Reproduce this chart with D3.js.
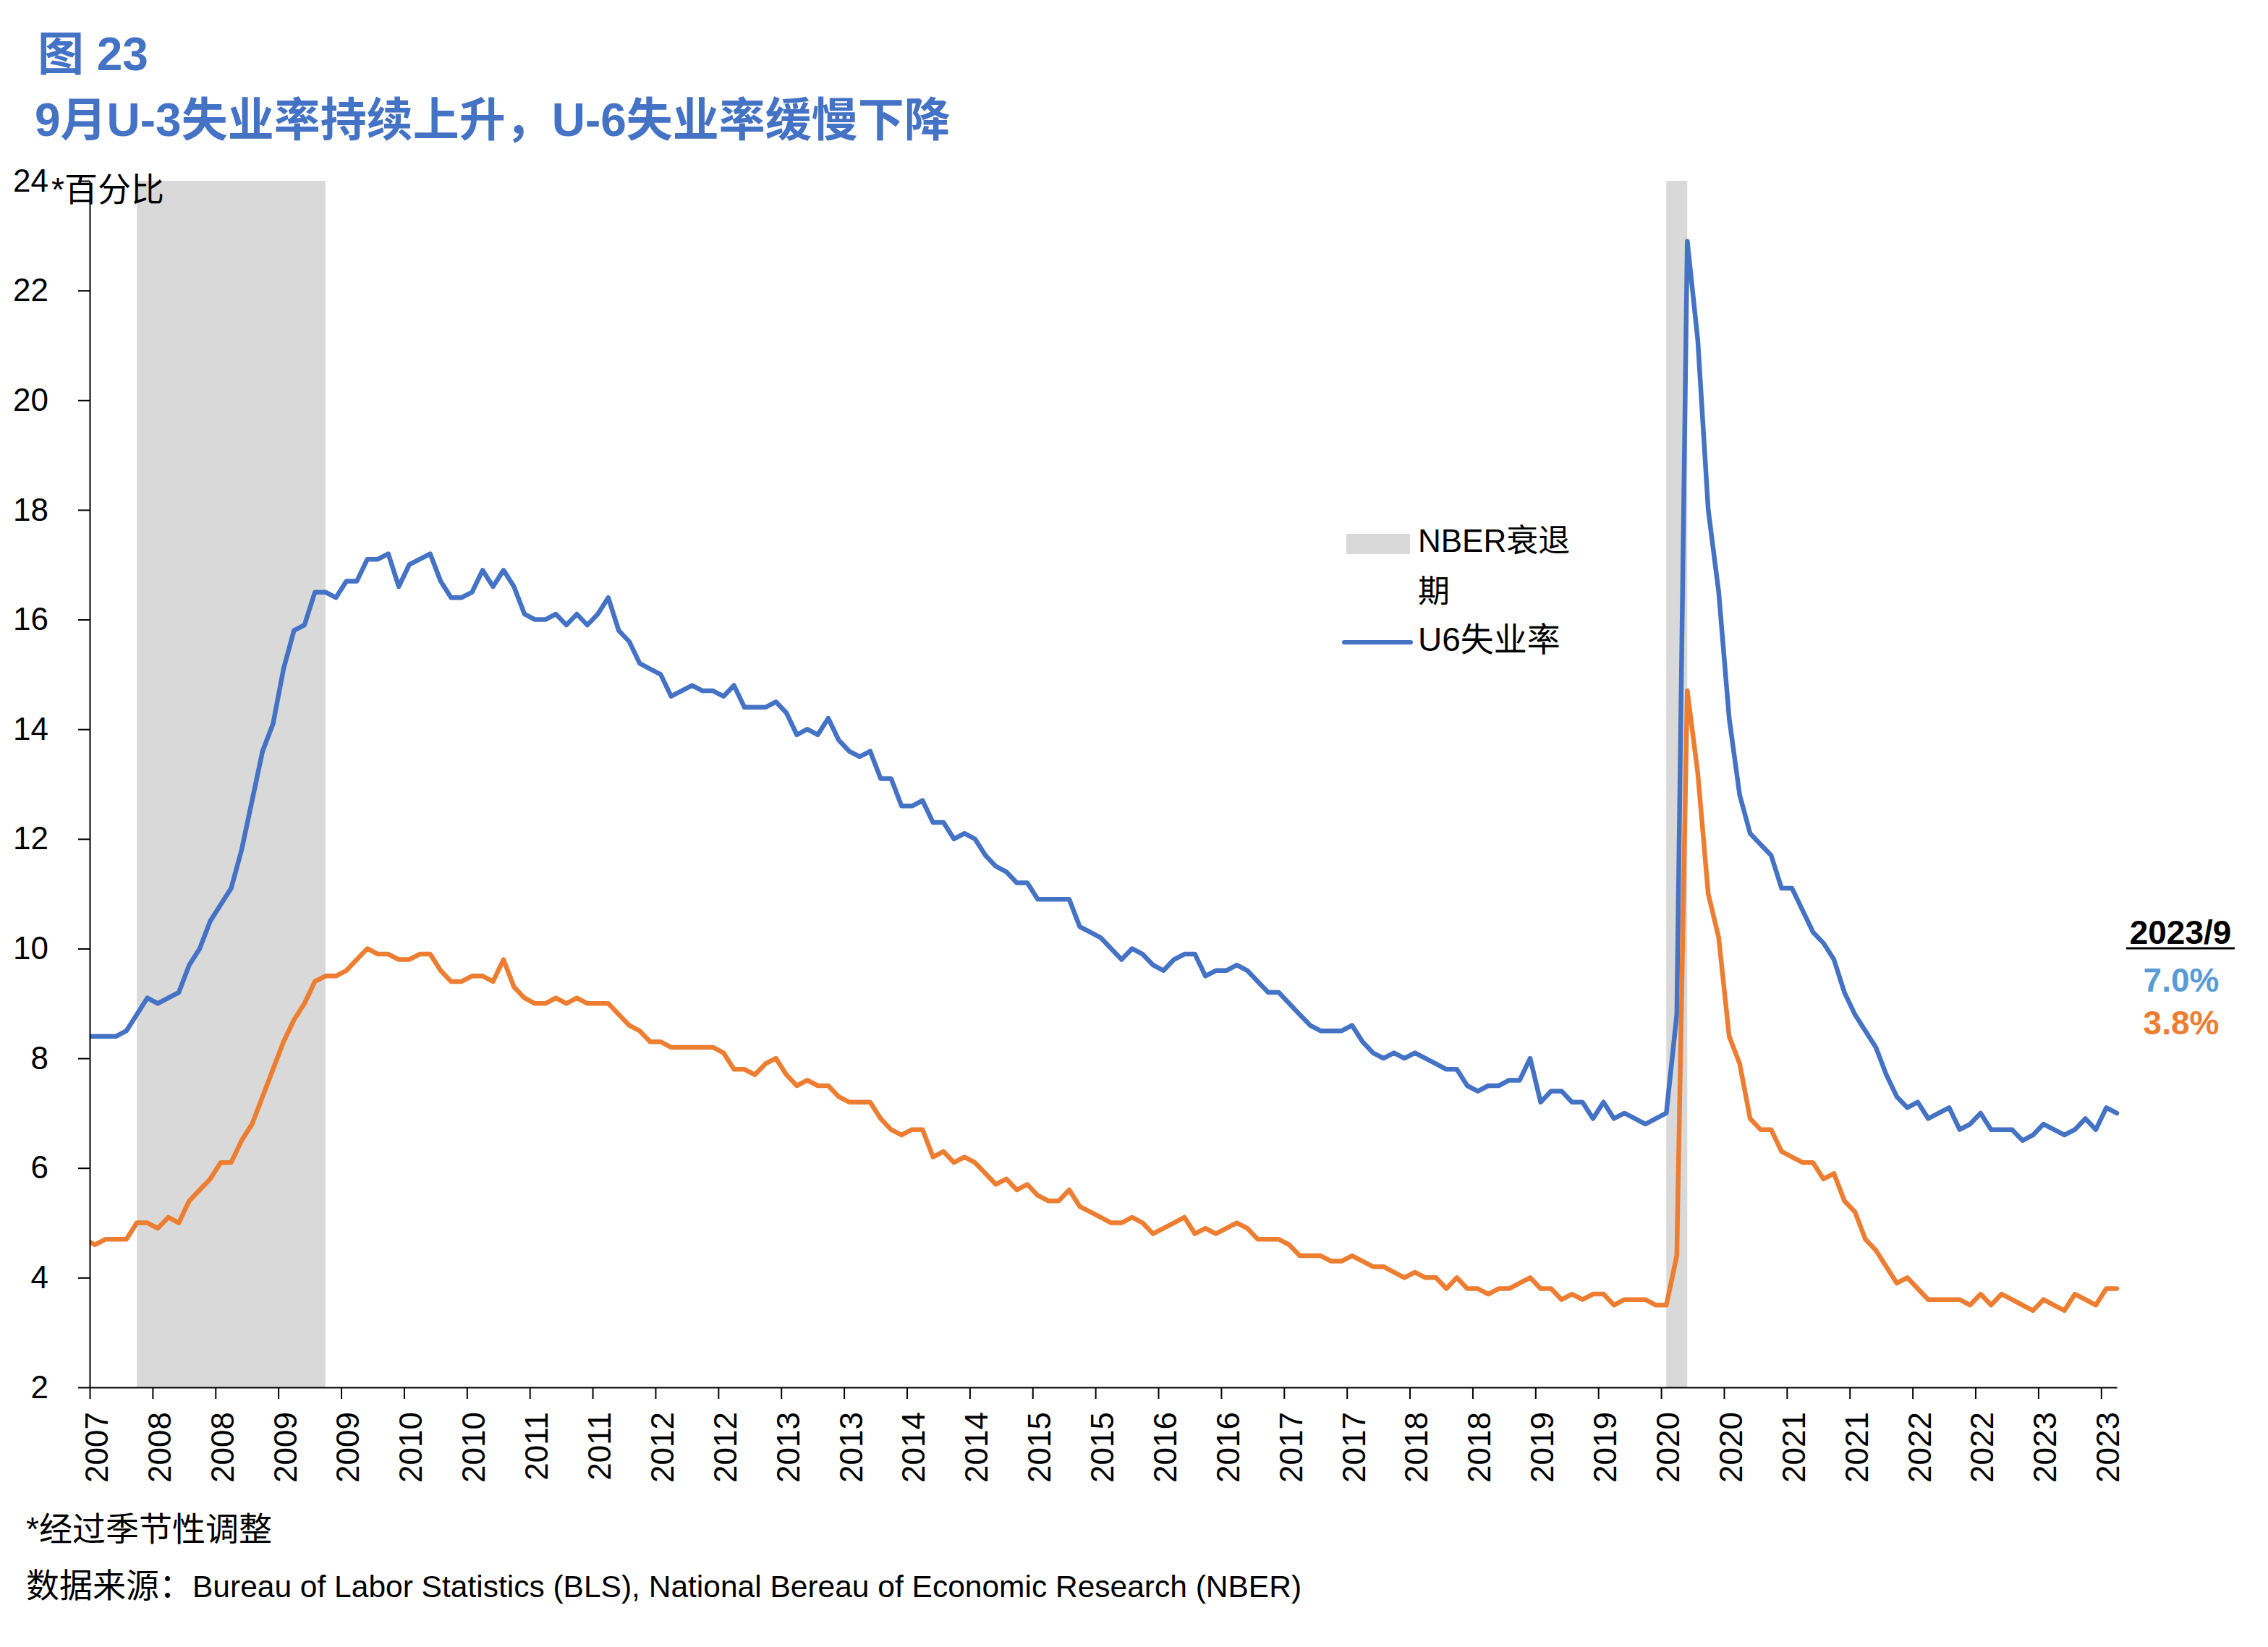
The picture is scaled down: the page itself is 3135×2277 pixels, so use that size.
<!DOCTYPE html>
<meta charset="utf-8">
<style>

body {
  margin: 0;
  background: #fff;
}

text {
  font-family: "Liberation Sans", "Noto Sans CJK SC", sans-serif;
  fill: #000;
}

.title {
  font-size: 64px;
  font-weight: bold;
  fill: #4472C4;
}

.axis text {
  font-size: 44px;
}

.axis path,
.axis line {
  stroke: #000;
  stroke-width: 2px;
}

.line {
  fill: none;
  stroke-width: 6.5px;
  stroke-linejoin: round;
  stroke-linecap: round;
}

</style>
<svg width="3135" height="2277"></svg>
<script src="https://d3js.org/d3.v7.min.js"></script>
<script>

// monthly, Jul 2007 .. Sep 2023 (seasonally adjusted)
var u6 = [
  8.4, 8.4, 8.4, 8.4, 8.5, 8.8,
  9.1, 9.0, 9.1, 9.2, 9.7, 10.0, 10.5, 10.8, 11.1, 11.8, 12.7, 13.6,
  14.1, 15.1, 15.8, 15.9, 16.5, 16.5, 16.4, 16.7, 16.7, 17.1, 17.1, 17.2,
  16.6, 17.0, 17.1, 17.2, 16.7, 16.4, 16.4, 16.5, 16.9, 16.6, 16.9, 16.6,
  16.1, 16.0, 16.0, 16.1, 15.9, 16.1, 15.9, 16.1, 16.4, 15.8, 15.6, 15.2,
  15.1, 15.0, 14.6, 14.7, 14.8, 14.7, 14.7, 14.6, 14.8, 14.4, 14.4, 14.4,
  14.5, 14.3, 13.9, 14.0, 13.9, 14.2, 13.8, 13.6, 13.5, 13.6, 13.1, 13.1,
  12.6, 12.6, 12.7, 12.3, 12.3, 12.0, 12.1, 12.0, 11.7, 11.5, 11.4, 11.2,
  11.2, 10.9, 10.9, 10.9, 10.9, 10.4, 10.3, 10.2, 10.0, 9.8, 10.0, 9.9,
  9.7, 9.6, 9.8, 9.9, 9.9, 9.5, 9.6, 9.6, 9.7, 9.6, 9.4, 9.2,
  9.2, 9.0, 8.8, 8.6, 8.5, 8.5, 8.5, 8.6, 8.3, 8.1, 8.0, 8.1,
  8.0, 8.1, 8.0, 7.9, 7.8, 7.8, 7.5, 7.4, 7.5, 7.5, 7.6, 7.6,
  8.0, 7.2, 7.4, 7.4, 7.2, 7.2, 6.9, 7.2, 6.9, 7.0, 6.9, 6.8,
  6.9, 7.0, 8.8, 22.9, 21.1, 18.0, 16.5, 14.2, 12.8, 12.1, 11.9, 11.7,
  11.1, 11.1, 10.7, 10.3, 10.1, 9.8, 9.2, 8.8, 8.5, 8.2, 7.7, 7.3,
  7.1, 7.2, 6.9, 7.0, 7.1, 6.7, 6.8, 7.0, 6.7, 6.7, 6.7, 6.5,
  6.6, 6.8, 6.7, 6.6, 6.7, 6.9, 6.7, 7.1, 7.0
];

var u3 = [
  4.7, 4.6, 4.7, 4.7, 4.7, 5.0,
  5.0, 4.9, 5.1, 5.0, 5.4, 5.6, 5.8, 6.1, 6.1, 6.5, 6.8, 7.3,
  7.8, 8.3, 8.7, 9.0, 9.4, 9.5, 9.5, 9.6, 9.8, 10.0, 9.9, 9.9,
  9.8, 9.8, 9.9, 9.9, 9.6, 9.4, 9.4, 9.5, 9.5, 9.4, 9.8, 9.3,
  9.1, 9.0, 9.0, 9.1, 9.0, 9.1, 9.0, 9.0, 9.0, 8.8, 8.6, 8.5,
  8.3, 8.3, 8.2, 8.2, 8.2, 8.2, 8.2, 8.1, 7.8, 7.8, 7.7, 7.9,
  8.0, 7.7, 7.5, 7.6, 7.5, 7.5, 7.3, 7.2, 7.2, 7.2, 6.9, 6.7,
  6.6, 6.7, 6.7, 6.2, 6.3, 6.1, 6.2, 6.1, 5.9, 5.7, 5.8, 5.6,
  5.7, 5.5, 5.4, 5.4, 5.6, 5.3, 5.2, 5.1, 5.0, 5.0, 5.1, 5.0,
  4.8, 4.9, 5.0, 5.1, 4.8, 4.9, 4.8, 4.9, 5.0, 4.9, 4.7, 4.7,
  4.7, 4.6, 4.4, 4.4, 4.4, 4.3, 4.3, 4.4, 4.3, 4.2, 4.2, 4.1,
  4.0, 4.1, 4.0, 4.0, 3.8, 4.0, 3.8, 3.8, 3.7, 3.8, 3.8, 3.9,
  4.0, 3.8, 3.8, 3.6, 3.7, 3.6, 3.7, 3.7, 3.5, 3.6, 3.6, 3.6,
  3.5, 3.5, 4.4, 14.7, 13.2, 11.0, 10.2, 8.4, 7.9, 6.9, 6.7, 6.7,
  6.3, 6.2, 6.1, 6.1, 5.8, 5.9, 5.4, 5.2, 4.7, 4.5, 4.2, 3.9,
  4.0, 3.8, 3.6, 3.6, 3.6, 3.6, 3.5, 3.7, 3.5, 3.7, 3.6, 3.5,
  3.4, 3.6, 3.5, 3.4, 3.7, 3.6, 3.5, 3.8, 3.8
];

var recessionStart = ["2007-12", "2020-02"],
    recessionEnd = ["2009-06", "2020-04"];

var yTicks = [2, 4, 6, 8, 10, 12, 14, 16, 18, 20, 22, 24];

var xTickLabels = ["2007",
  "2008", "2008", "2009", "2009", "2010", "2010", "2011", "2011",
  "2012", "2012", "2013", "2013", "2014", "2014", "2015", "2015",
  "2016", "2016", "2017", "2017", "2018", "2018", "2019", "2019",
  "2020", "2020", "2021", "2021", "2022", "2022", "2023", "2023"];

var legendNames = ["NBER衰退期", "U6失业率"];

var svg = d3.select("svg");

svg.append("rect")
    .attr("width", 3135)
    .attr("height", 2277)
    .attr("fill", "#fff");

// month index, 0 = Jul 2007
function monthIndex(s) {
  var p = s.split("-");
  return (+p[0] - 2007) * 12 + (+p[1] - 7);
}

var x = d3.scaleLinear()
    .domain([0.5, u6.length - 1])
    .range([124, 2926]);

var y = d3.scaleLinear()
    .domain([2, 24])
    .range([1918, 250]);

svg.append("clipPath")
    .attr("id", "plot")
  .append("rect")
    .attr("x", x.range()[0])
    .attr("y", 0)
    .attr("width", x.range()[1] - x.range()[0] + 6)
    .attr("height", 2277);

// recession shading
svg.append("g")
  .selectAll("rect")
  .data(recessionStart)
  .enter().append("rect")
    .attr("x", function(d) { return x(monthIndex(d)); })
    .attr("width", function(d, i) { return x(monthIndex(recessionEnd[i])) - x(monthIndex(d)); })
    .attr("y", y(24))
    .attr("height", y(2) - y(24))
    .attr("fill", "#D9D9D9");

var line = d3.line()
    .x(function(d, i) { return x(i); })
    .y(function(d) { return y(d); });

var lines = svg.append("g").attr("clip-path", "url(#plot)");

lines.append("path")
    .datum(u6)
    .attr("class", "line")
    .attr("stroke", "#4472C4")
    .attr("d", line);

lines.append("path")
    .datum(u3)
    .attr("class", "line")
    .attr("stroke", "#ED7D31")
    .attr("d", line);

// axes
svg.append("g")
    .attr("class", "axis")
    .attr("transform", "translate(" + x.range()[0] + ",0)")
    .call(d3.axisLeft(y)
        .tickValues(yTicks)
        .tickSize(16)
        .tickSizeOuter(0)
        .tickPadding(41)
        .tickFormat(d3.format("d")));

var xTickPos = xTickLabels.map(function(d, i) { return 0.5 + i * 6; });

svg.append("g")
    .attr("class", "axis")
    .attr("transform", "translate(0," + y(2) + ")")
    .call(d3.axisBottom(x)
        .tickValues(xTickPos)
        .tickSize(16)
        .tickSizeOuter(0)
        .tickFormat(function(d, i) { return xTickLabels[i]; }))
  .selectAll("text")
    .attr("transform", "rotate(-90)")
    .attr("text-anchor", "end")
    .attr("x", -34)
    .attr("y", 9)
    .attr("dy", "0.35em");

// titles
svg.append("text")
    .attr("class", "title")
    .attr("x", 52)
    .attr("y", 97)
    .text("图 23");

svg.append("text")
    .attr("class", "title")
    .attr("x", 48)
    .attr("y", 188)
    .text("9月U-3失业率持续上升，U-6失业率缓慢下降");

svg.append("text")
    .attr("x", 71)
    .attr("y", 278)
    .style("font-size", "46px")
    .text("*百分比");

// legend
var legend = svg.append("g");

legend.append("rect")
    .attr("x", 1861)
    .attr("y", 738)
    .attr("width", 88)
    .attr("height", 28)
    .attr("fill", "#D9D9D9");

legend.append("text")
    .attr("x", 1960)
    .attr("y", 763)
    .style("font-size", "44px")
    .text(legendNames[0].slice(0, 6));

legend.append("text")
    .attr("x", 1960)
    .attr("y", 833)
    .style("font-size", "44px")
    .text(legendNames[0].slice(6));

legend.append("line")
    .attr("x1", 1858)
    .attr("x2", 1950)
    .attr("y1", 888)
    .attr("y2", 888)
    .attr("stroke", "#4472C4")
    .attr("stroke-width", 6)
    .attr("stroke-linecap", "round");

legend.append("text")
    .attr("x", 1960)
    .attr("y", 900)
    .style("font-size", "46px")
    .text(legendNames[1]);

// latest values
var note = svg.append("g").attr("text-anchor", "middle");

note.append("text")
    .attr("x", 3014)
    .attr("y", 1305)
    .style("font-size", "46px")
    .style("font-weight", "bold")
    .text("2023/9");

note.append("line")
    .attr("x1", 2939)
    .attr("x2", 3089)
    .attr("y1", 1311)
    .attr("y2", 1311)
    .attr("stroke", "#000")
    .attr("stroke-width", 3);

note.append("text")
    .attr("x", 3015)
    .attr("y", 1371)
    .style("font-size", "46px")
    .style("font-weight", "bold")
    .style("fill", "#5B9BD5")
    .text(u6[u6.length - 1].toFixed(1) + "%");

note.append("text")
    .attr("x", 3015)
    .attr("y", 1430)
    .style("font-size", "46px")
    .style("font-weight", "bold")
    .style("fill", "#ED7D31")
    .text(u3[u3.length - 1].toFixed(1) + "%");

// footer
svg.append("text")
    .attr("x", 36)
    .attr("y", 2130)
    .style("font-size", "46px")
    .text("*经过季节性调整");

var src = svg.append("text")
    .attr("x", 36)
    .attr("y", 2208);

src.append("tspan")
    .style("font-size", "46px")
    .text("数据来源：");

src.append("tspan")
    .style("font-size", "42.5px")
    .text("Bureau of Labor Statistics (BLS), National Bereau of Economic Research (NBER)");

</script>
